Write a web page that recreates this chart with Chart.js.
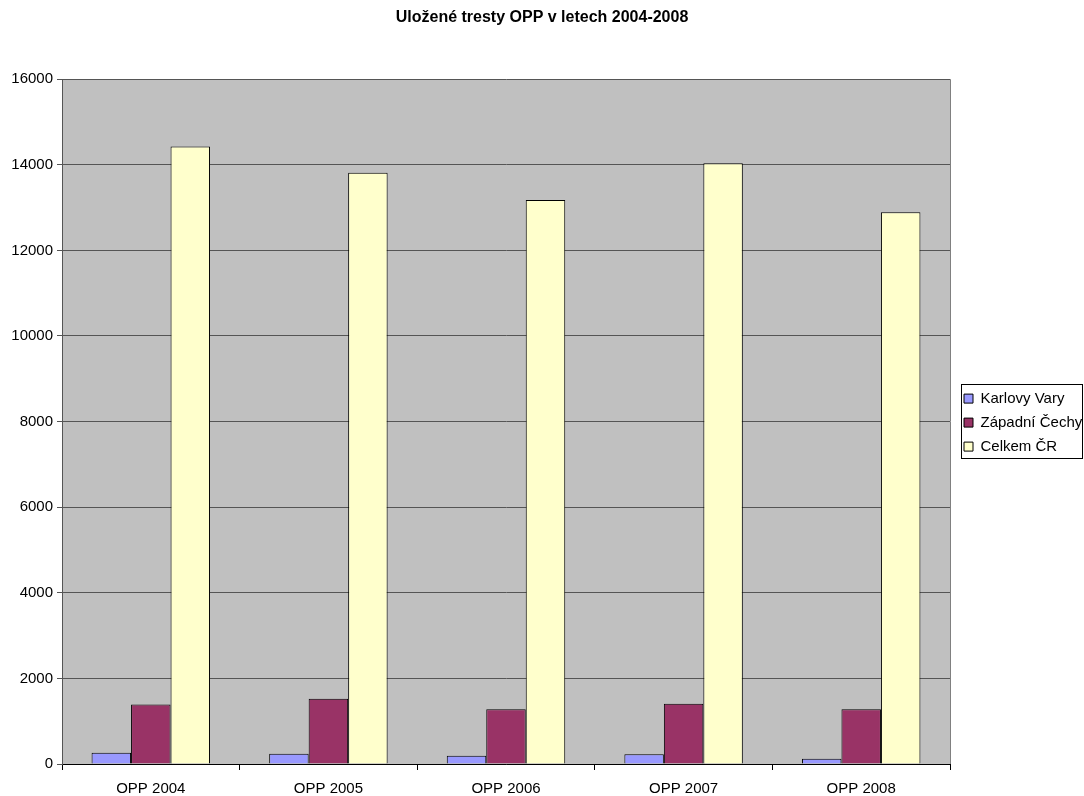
<!DOCTYPE html>
<html>
<head>
<meta charset="utf-8">
<script src="https://cdn.jsdelivr.net/npm/chart.js@4.4.0/dist/chart.umd.min.js"></script>
<style>
  html, body { margin: 0; padding: 0; background: #ffffff; }
  #wrap { width: 1084px; height: 796px; }
</style>
</head>
<body>
<div id="wrap"><canvas id="graf"></canvas></div>
<script>
const roky = ['OPP 2004', 'OPP 2005', 'OPP 2006', 'OPP 2007', 'OPP 2008'];
const karlovyVary = [262, 239, 192, 229, 122];
const zapadniCechy = [1392, 1525, 1282, 1408, 1282];
const celkemCR = [14425, 13817, 13178, 14037, 12891];
const osaY = [0, 2000, 4000, 6000, 8000, 10000, 12000, 14000, 16000];

const pismo = 'Arial, "Liberation Sans", sans-serif';

// šedé pozadí plochy grafu, rámeček legendy a posun legendy
const pozadi = {
  id: 'pozadi',
  beforeLayout(chart) {
    const lg = chart.legend;
    if (lg && !lg._upraveno) {
      const puvodniFit = lg.fit;
      lg.fit = function() {
        puvodniFit.call(this);
        this.width = 134;
      };
      lg._upraveno = true;
    }
  },
  afterLayout(chart) {
    if (chart.legend) {
      chart.legend.left += 5;
      chart.legend.top += 2;
    }
  },
  beforeDraw(chart) {
    const a = chart.chartArea;
    const ctx = chart.ctx;
    ctx.save();
    ctx.fillStyle = '#c0c0c0';
    ctx.fillRect(a.left, a.top, a.right - a.left, a.bottom - a.top);
    ctx.restore();
  },
  afterDraw(chart) {
    const a = chart.chartArea;
    const ctx = chart.ctx;
    ctx.save();
    ctx.strokeStyle = '#808080';
    ctx.lineWidth = 1;
    ctx.beginPath();
    ctx.moveTo(Math.round(a.right) + 0.5, a.top);
    ctx.lineTo(Math.round(a.right) + 0.5, a.bottom);
    ctx.stroke();
    ctx.strokeStyle = '#000000';
    ctx.strokeRect(961.5, 384.5, 121, 74);
    ctx.restore();
  }
};

new Chart(document.getElementById('graf'), {
  type: 'bar',
  data: {
    labels: roky,
    datasets: [
      { label: 'Karlovy Vary', data: karlovyVary, backgroundColor: '#9999ff', borderColor: '#000000', borderWidth: 1 },
      { label: 'Západní Čechy', data: zapadniCechy, backgroundColor: '#993366', borderColor: '#000000', borderWidth: 1 },
      { label: 'Celkem ČR', data: celkemCR, backgroundColor: '#ffffcc', borderColor: '#000000', borderWidth: 1 }
    ]
  },
  options: {
    responsive: true,
    maintainAspectRatio: false,
    animation: false,
    layout: { padding: { left: 0, right: 0, top: 0, bottom: 0 } },
    datasets: { bar: { categoryPercentage: 0.667, barPercentage: 1 } },
    plugins: {
      title: {
        display: true,
        text: 'Uložené tresty OPP v letech 2004-2008',
        color: '#000000',
        font: { family: pismo, size: 16, weight: 'bold' },
        padding: { top: 8, bottom: 52 }
      },
      legend: {
        position: 'right',
        fullSize: false,
        labels: {
          color: '#000000',
          font: { family: pismo, size: 15 },
          boxWidth: 9,
          boxHeight: 9,
          padding: 9
        }
      },
      tooltip: { enabled: false }
    },
    scales: {
      x: {
        grid: { display: true, drawOnChartArea: false, offset: true, color: '#000000', tickLength: 6 },
        border: { color: '#000000' },
        ticks: { color: '#000000', font: { family: pismo, size: 15 }, padding: 10 },
        afterFit(scale) { scale.height = 32; }
      },
      y: {
        min: 0,
        max: 16000,
        afterBuildTicks(scale) { scale.ticks = osaY.map(v => ({ value: v })); },
        grid: { color: '#555555', tickLength: 5 },
        border: { color: '#555555' },
        ticks: { color: '#000000', font: { family: pismo, size: 15 }, padding: 4, callback: v => String(v) },
        afterFit(scale) { scale.width = 62; }
      }
    }
  },
  plugins: [pozadi]
});
</script>
</body>
</html>
